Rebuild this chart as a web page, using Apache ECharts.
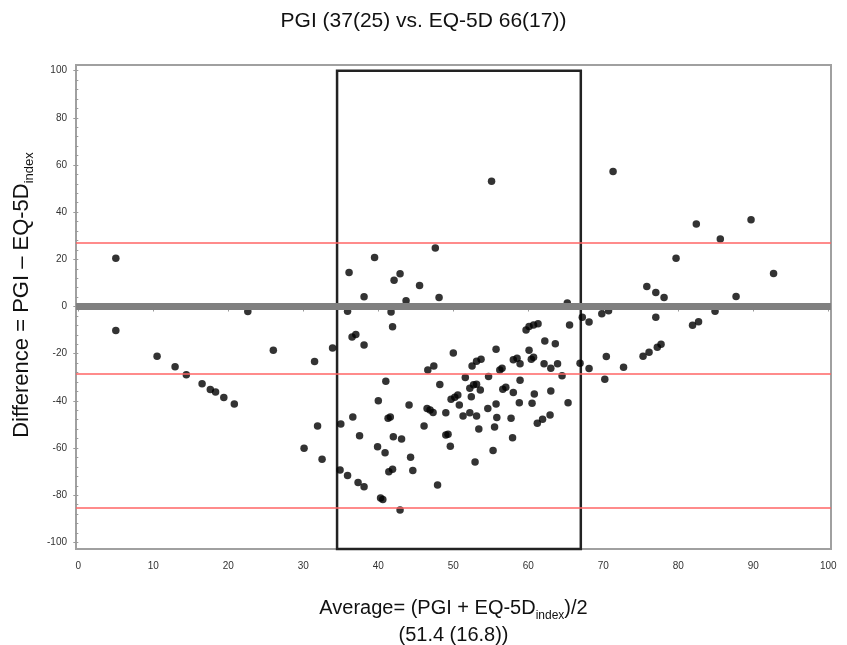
<!DOCTYPE html>
<html>
<head>
<meta charset="utf-8">
<script src="https://cdn.jsdelivr.net/npm/echarts@6/dist/echarts.min.js"></script>
<style>html,body{margin:0;padding:0;background:#fff}#c{width:847px;height:645px}</style>
</head>
<body>
<div id="c"></div>
<script>
// Average (x) and Difference (y) for each subject
const avgX = [
  5.0,55.1,71.3,47.6,39.5,36.1,42.9,42.1,45.5,38.1,43.7,48.1,65.2,82.4,89.7,85.6,79.7,92.7,75.8,77.0,78.1,87.7,
  5.0,22.6,10.5,12.9,14.4,16.5,17.6,18.3,19.4,20.8,26.0,31.5,33.9,30.1,31.9,32.5,
  35.9,41.7,41.9,36.5,37.0,38.1,50.0,55.7,59.7,60.1,60.7,61.3,65.5,62.2,63.6,60.1,67.2,68.1,69.8,70.7,
  46.6,47.4,52.5,53.1,53.7,51.6,54.7,56.2,56.5,58.0,58.5,58.9,60.4,60.7,62.1,63.0,63.9,64.5,66.9,68.1,70.4,70.2,
  41.0,48.2,52.2,52.7,53.1,53.6,52.4,49.7,50.2,50.6,50.8,56.6,57.0,58.0,58.9,58.8,60.8,60.5,63.0,65.3,
  40.0,44.1,46.5,46.9,47.3,49.0,51.3,52.2,53.1,54.6,55.7,55.8,57.7,
  36.6,41.3,41.6,35.0,37.5,42.0,43.1,46.1,49.0,49.3,49.6,53.4,55.5,57.9,61.2,61.9,62.9,
  39.9,40.9,44.3,44.6,41.4,41.9,34.9,35.9,37.3,38.1,47.9,52.9,55.3,40.3,40.6,42.9,
  77.0,81.9,82.7,84.9,72.7,75.3,76.1,77.2,77.7
];
const diffY = [
  20.5,53.1,57.3,24.8,20.8,14.4,13.9,11.1,8.9,4.1,2.4,3.8,1.5,35.0,36.8,28.6,20.5,14.0,8.5,6.0,3.8,4.3,
  -10.2,-2.1,-21.1,-25.5,-28.9,-32.7,-35.2,-36.2,-38.6,-41.3,-18.5,-23.3,-17.6,-60.1,-50.7,-64.8,
  -2.0,-2.3,-8.6,-12.9,-11.9,-16.3,-19.7,-18.1,-9.9,-8.5,-7.8,-7.3,-7.8,-14.6,-15.8,-18.5,-4.5,-6.6,-3.1,-1.8,
  -26.9,-25.2,-25.2,-23.2,-22.4,-30.1,-29.7,-26.9,-26.2,-22.6,-21.9,-24.3,-22.4,-21.5,-24.3,-26.2,-24.3,-29.3,-24.0,-26.3,-21.2,-30.8,
  -31.7,-33.1,-34.7,-33.2,-33.0,-35.4,-38.2,-39.3,-38.5,-37.5,-41.7,-35.1,-34.2,-36.5,-31.3,-40.8,-37.1,-41.0,-35.8,-40.8,
  -39.9,-41.7,-43.2,-43.9,-44.9,-45.0,-46.4,-45.0,-46.4,-43.2,-41.3,-47.0,-47.4,
  -46.8,-47.4,-46.8,-49.8,-54.8,-55.2,-56.2,-50.7,-54.5,-54.1,-59.2,-51.9,-51.1,-55.6,-49.5,-47.8,-46.0,
  -59.4,-62.0,-63.9,-69.5,-70.1,-69.0,-69.3,-71.6,-74.6,-76.4,-75.7,-65.9,-61.0,-81.2,-81.8,-86.3,
  -4.5,-7.9,-6.5,-2.0,-25.7,-21.1,-19.4,-17.3,-16.0
];
// Reference lines: mean difference and limits of agreement
const meanDiff = -28.6;
const upperLoA = 27.0;
const lowerLoA = -85.2;
const zeroLine = 0;
// Highlighted range of averages (box)
const boxX = [34.5, 67.0];
const boxTop = 100;
// Axis ticks
const xTickLabels = [0,10,20,30,40,50,60,70,80,90,100];
const yTickLabels = [-100,-80,-60,-40,-20,0,20,40,60,80,100];
const xMinorTicks = [];
for (let v = 0; v <= 100; v += 2) if (v % 10 !== 0) xMinorTicks.push(v);
const yMinorTicks = [];
for (let v = -100; v <= 100; v += 4) if (v % 20 !== 0) yMinorTicks.push(v);

const FONT = "'Liberation Sans Narrow', 'Liberation Sans', Arial, sans-serif";
const FONT2 = "'Liberation Sans', Arial, sans-serif";
const XMIN = -0.31, XMAX = 100.36, YMIN = -102.8, YMAX = 102.4;

const chart = echarts.init(document.getElementById('c'), null, {renderer: 'canvas'});
const points = avgX.map((x, i) => [x, diffY[i]]);

const tickStyle = {lineStyle: {color: '#9a9a9a', width: 1}};
chart.setOption({
  animation: false,
  backgroundColor: '#fff',
  title: {
    text: 'PGI (37(25) vs. EQ-5D 66(17))',
    left: 'center', top: 6,
    textStyle: {fontFamily: FONT2, fontSize: 21, fontWeight: 'normal', color: '#111'}
  },
  grid: {left: 76, top: 65, right: 16, bottom: 96, containLabel: false, outerBoundsMode: 'none',
         show: true, borderColor: '#a0a0a0', borderWidth: 2, backgroundColor: '#fff'},
  xAxis: [{
    type: 'value', min: XMIN, max: XMAX,
    axisLine: {show: false}, splitLine: {show: false},
    axisTick: Object.assign({show: true, length: 5, customValues: xTickLabels}, tickStyle),
    axisLabel: {customValues: xTickLabels, margin: 12, fontFamily: FONT, fontSize: 10, color: '#333'},
    name: '{m|Average= (PGI + EQ-5D}{s|index}{m|)/2}\n{m|(51.4 (16.8))}',
    nameLocation: 'middle', nameGap: 46,
    nameTextStyle: {
      fontFamily: FONT2, color: '#111', align: 'center',
      rich: {
        m: {fontFamily: FONT2, fontSize: 20, color: '#111', lineHeight: 27, verticalAlign: 'middle'},
        s: {fontFamily: FONT2, fontSize: 12, color: '#111', lineHeight: 12, verticalAlign: 'bottom'}
      }
    }
  }, {
    type: 'value', min: XMIN, max: XMAX, position: 'bottom',
    axisLine: {show: false}, splitLine: {show: false}, axisLabel: {show: false},
    axisTick: Object.assign({show: true, length: 3, customValues: xMinorTicks}, tickStyle)
  }],
  yAxis: [{
    type: 'value', min: YMIN, max: YMAX,
    axisLine: {show: false}, splitLine: {show: false},
    axisTick: Object.assign({show: true, length: 5, customValues: yTickLabels}, tickStyle),
    axisLabel: {customValues: yTickLabels, margin: 9, fontFamily: FONT, fontSize: 10, color: '#333'},
    name: '{m|Difference = PGI \u2013 EQ-5D}{s|index}',
    nameLocation: 'middle', nameGap: 40,
    nameTextStyle: {
      fontFamily: FONT2, color: '#111', padding: [0, 0, 0, 24],
      rich: {
        m: {fontFamily: FONT2, fontSize: 22, color: '#111', lineHeight: 29, verticalAlign: 'middle'},
        s: {fontFamily: FONT2, fontSize: 13, color: '#111', lineHeight: 13, verticalAlign: 'bottom'}
      }
    }
  }, {
    type: 'value', min: YMIN, max: YMAX, position: 'left',
    axisLine: {show: false}, splitLine: {show: false}, axisLabel: {show: false},
    axisTick: Object.assign({show: true, length: 3, customValues: yMinorTicks}, tickStyle)
  }],
  series: [{
    type: 'scatter', xAxisIndex: 0, yAxisIndex: 0,
    data: points, symbol: 'circle', symbolSize: 7.5,
    itemStyle: {color: '#000'}, z: 3,
    markArea: {
      silent: true,
      itemStyle: {color: 'rgba(0,0,0,0)', borderColor: '#222', borderWidth: 2.5},
      data: [[{xAxis: boxX[0], yAxis: boxTop}, {xAxis: boxX[1], yAxis: YMIN}]]
    }
  }, {
    type: 'scatter', xAxisIndex: 0, yAxisIndex: 0, data: [], z: 4,
    markLine: {
      silent: true, symbol: 'none', label: {show: false}, animation: false,
      data: [
        {yAxis: upperLoA, lineStyle: {color: '#ff6464', width: 1.5, type: 'solid'}},
        {yAxis: meanDiff, lineStyle: {color: '#ff6464', width: 1.5, type: 'solid'}},
        {yAxis: lowerLoA, lineStyle: {color: '#ff6464', width: 1.5, type: 'solid'}},
        {yAxis: zeroLine, lineStyle: {color: '#808080', width: 7, type: 'solid'}}
      ]
    }
  }]
});
</script>
</body>
</html>
